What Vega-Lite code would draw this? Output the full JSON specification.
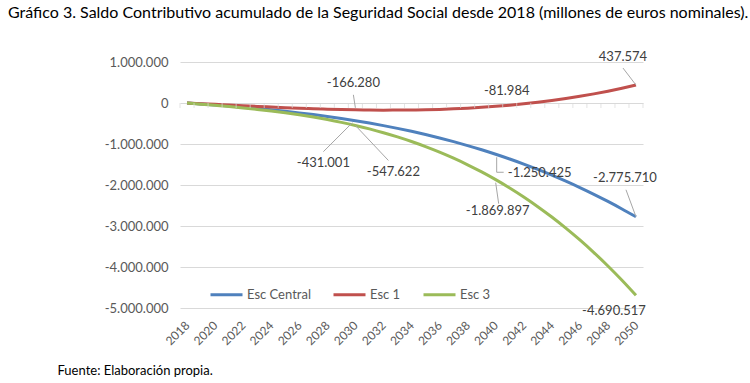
{
  "$schema": "https://vega.github.io/schema/vega-lite/v6.json",
  "autosize": "none",
  "width": 463,
  "height": 246,
  "padding": {"left": 180, "top": 62, "right": 107, "bottom": 75},
  "background": "white",
  "title": {"text": "Gráfico 3. Saldo Contributivo acumulado de la Seguridad Social desde 2018 (millones de euros nominales).", "anchor": "start", "frame": "group", "dx": -172, "offset": 30, "fontSize": 16, "font": "Lato", "fontWeight": "normal", "color": "#000000", "limit": 0},
  "config": {
    "locale": {"number": {"decimal": ",", "thousands": ".", "grouping": [3], "currency": ["", " €"], "minus": "-"}},
    "view": {"stroke": null},
    "font": "Lato",
    "axisX": {"labelOverlap": false, "labelAngle": -45, "labelAlign": "right", "labelBaseline": "middle", "labelFontSize": 12, "labelColor": "#595959", "labelPadding": 15, "domain": false, "ticks": false, "grid": false},
    "legend": {"orient": "none", "legendX": 29, "legendY": 215, "direction": "horizontal", "symbolType": "stroke", "symbolSize": 1024, "symbolStrokeWidth": 3, "labelFontSize": 13, "labelColor": "#595959", "labelFont": "Lato", "columnPadding": 16, "labelOffset": 3}
  },
  "data": {"values": [
    {"year": 2018, "Esc Central": 0, "Esc 1": 0, "Esc 3": 0},
    {"year": 2019, "Esc Central": -23400, "Esc 1": -16600, "Esc 3": -28000},
    {"year": 2020, "Esc Central": -48100, "Esc 1": -33400, "Esc 3": -57000},
    {"year": 2021, "Esc Central": -74500, "Esc 1": -50300, "Esc 3": -87600},
    {"year": 2022, "Esc Central": -102800, "Esc 1": -66900, "Esc 3": -120600},
    {"year": 2023, "Esc Central": -133300, "Esc 1": -83100, "Esc 3": -156500},
    {"year": 2024, "Esc Central": -166300, "Esc 1": -98700, "Esc 3": -196100},
    {"year": 2025, "Esc Central": -202000, "Esc 1": -113400, "Esc 3": -240000},
    {"year": 2026, "Esc Central": -240700, "Esc 1": -127000, "Esc 3": -288900},
    {"year": 2027, "Esc Central": -282700, "Esc 1": -139300, "Esc 3": -343400},
    {"year": 2028, "Esc Central": -328200, "Esc 1": -150100, "Esc 3": -404300},
    {"year": 2029, "Esc Central": -377600, "Esc 1": -159200, "Esc 3": -472100},
    {"year": 2030, "Esc Central": -431001, "Esc 1": -166280, "Esc 3": -547622},
    {"year": 2031, "Esc Central": -488800, "Esc 1": -171200, "Esc 3": -631400},
    {"year": 2032, "Esc Central": -551300, "Esc 1": -173800, "Esc 3": -724200},
    {"year": 2033, "Esc Central": -618600, "Esc 1": -173700, "Esc 3": -826700},
    {"year": 2034, "Esc Central": -691100, "Esc 1": -170800, "Esc 3": -939400},
    {"year": 2035, "Esc Central": -769100, "Esc 1": -164900, "Esc 3": -1063100},
    {"year": 2036, "Esc Central": -852700, "Esc 1": -155700, "Esc 3": -1198500},
    {"year": 2037, "Esc Central": -942400, "Esc 1": -143100, "Esc 3": -1346200},
    {"year": 2038, "Esc Central": -1038300, "Esc 1": -126700, "Esc 3": -1506900},
    {"year": 2039, "Esc Central": -1140800, "Esc 1": -106400, "Esc 3": -1681300},
    {"year": 2040, "Esc Central": -1250425, "Esc 1": -81984, "Esc 3": -1869897},
    {"year": 2041, "Esc Central": -1366300, "Esc 1": -53300, "Esc 3": -2073500},
    {"year": 2042, "Esc Central": -1490000, "Esc 1": -19900, "Esc 3": -2292900},
    {"year": 2043, "Esc Central": -1621300, "Esc 1": 18200, "Esc 3": -2528500},
    {"year": 2044, "Esc Central": -1760400, "Esc 1": 61400, "Esc 3": -2781000},
    {"year": 2045, "Esc Central": -1907700, "Esc 1": 109700, "Esc 3": -3051200},
    {"year": 2046, "Esc Central": -2063400, "Esc 1": 163600, "Esc 3": -3339800},
    {"year": 2047, "Esc Central": -2227900, "Esc 1": 223000, "Esc 3": -3647400},
    {"year": 2048, "Esc Central": -2401300, "Esc 1": 288300, "Esc 3": -3974600},
    {"year": 2049, "Esc Central": -2584000, "Esc 1": 359800, "Esc 3": -4322100},
    {"year": 2050, "Esc Central": -2775710, "Esc 1": 437574, "Esc 3": -4690517}
  ]},
  "transform": [{"fold": ["Esc Central", "Esc 1", "Esc 3"], "as": ["serie", "value"]}],
  "layer": [
    {
      "mark": {"type": "line", "strokeWidth": 3, "interpolate": "monotone"},
      "encoding": {
        "x": {"field": "year", "type": "quantitative", "scale": {"domain": [2017.5, 2050.5], "nice": false, "zero": false},
          "axis": {"values": [2018,2020,2022,2024,2026,2028,2030,2032,2034,2036,2038,2040,2042,2044,2046,2048,2050], "tickCount": 40, "format": "d", "labelOverlap": false,
            "title": "Fuente: Elaboración propia.", "titleX": -123, "titleY": 62, "titleAlign": "left", "titleAnchor": "start", "titleBaseline": "middle", "titleFontWeight": "normal", "titleFontSize": 13, "titleColor": "#000000", "titleFont": "Lato"}},
        "y": {"field": "value", "type": "quantitative", "scale": {"domain": [-5000000, 1000000], "nice": false, "zero": false},
          "axis": {"values": [-5000000,-4000000,-3000000,-2000000,-1000000,0,1000000], "format": ",d", "grid": true, "gridColor": "#d9d9d9", "domain": false, "ticks": false, "labelPadding": 12, "labelFontSize": 13, "labelColor": "#595959", "title": null}},
        "color": {"field": "serie", "type": "nominal", "scale": {"domain": ["Esc Central", "Esc 1", "Esc 3"], "range": ["#4F81BD", "#C0504D", "#9BBB59"]}, "sort": ["Esc Central", "Esc 1", "Esc 3"], "legend": {"title": null}}
      }
    },
    {
      "transform": [{"filter": "datum.serie == 'Esc 1'"}],
      "mark": {"type": "tick", "orient": "vertical", "size": 5, "thickness": 1, "color": "#d9d9d9", "xOffset": -7, "yOffset": 2.5},
      "encoding": {"x": {"field": "year", "type": "quantitative"}, "y": {"datum": 0, "type": "quantitative"}}
    },
    {
      "transform": [{"filter": "datum.serie == 'Esc 1' && datum.year == 2050"}],
      "mark": {"type": "tick", "orient": "vertical", "size": 5, "thickness": 1, "color": "#d9d9d9", "xOffset": 7, "yOffset": 2.5},
      "encoding": {"x": {"field": "year", "type": "quantitative"}, "y": {"datum": 0, "type": "quantitative"}}
    },
    {
      "transform": [{"filter": "datum.serie == 'Esc 1' && datum.year == 2030"}],
      "mark": {"type": "rule", "color": "#a6a6a6", "strokeWidth": 1, "yOffset": -2, "x2Offset": -2, "y2Offset": -15},
      "encoding": {"x": {"field": "year", "type": "quantitative"}, "y": {"field": "value", "type": "quantitative"}, "x2": {"field": "year"}, "y2": {"field": "value"}}
    },
    {
      "transform": [{"filter": "datum.serie == 'Esc 1' && datum.year == 2050"}],
      "mark": {"type": "rule", "color": "#a6a6a6", "strokeWidth": 1, "x2Offset": -13, "y2Offset": -17},
      "encoding": {"x": {"field": "year", "type": "quantitative"}, "y": {"field": "value", "type": "quantitative"}, "x2": {"field": "year"}, "y2": {"field": "value"}}
    },
    {
      "transform": [{"filter": "datum.serie == 'Esc Central' && datum.year == 2030"}],
      "mark": {"type": "rule", "color": "#a6a6a6", "strokeWidth": 1, "xOffset": -3, "yOffset": 2, "x2Offset": -32, "y2Offset": 31},
      "encoding": {"x": {"field": "year", "type": "quantitative"}, "y": {"field": "value", "type": "quantitative"}, "x2": {"field": "year"}, "y2": {"field": "value"}}
    },
    {
      "transform": [{"filter": "datum.serie == 'Esc 3' && datum.year == 2030"}],
      "mark": {"type": "rule", "color": "#a6a6a6", "strokeWidth": 1, "x2Offset": 33, "y2Offset": 35},
      "encoding": {"x": {"field": "year", "type": "quantitative"}, "y": {"field": "value", "type": "quantitative"}, "x2": {"field": "year"}, "y2": {"field": "value"}}
    },
    {
      "transform": [{"filter": "datum.serie == 'Esc Central' && datum.year == 2040"}],
      "mark": {"type": "rule", "color": "#a6a6a6", "strokeWidth": 1, "xOffset": 1, "yOffset": 3, "x2Offset": 1, "y2Offset": 18},
      "encoding": {"x": {"field": "year", "type": "quantitative"}, "y": {"field": "value", "type": "quantitative"}, "x2": {"field": "year"}, "y2": {"field": "value"}}
    },
    {
      "transform": [{"filter": "datum.serie == 'Esc Central' && datum.year == 2040"}],
      "mark": {"type": "rule", "color": "#a6a6a6", "strokeWidth": 1, "xOffset": 1, "yOffset": 18, "x2Offset": 8, "y2Offset": 18},
      "encoding": {"x": {"field": "year", "type": "quantitative"}, "y": {"field": "value", "type": "quantitative"}, "x2": {"field": "year"}, "y2": {"field": "value"}}
    },
    {
      "transform": [{"filter": "datum.serie == 'Esc 3' && datum.year == 2040"}],
      "mark": {"type": "rule", "color": "#a6a6a6", "strokeWidth": 1, "yOffset": 3, "x2Offset": 3, "y2Offset": 24},
      "encoding": {"x": {"field": "year", "type": "quantitative"}, "y": {"field": "value", "type": "quantitative"}, "x2": {"field": "year"}, "y2": {"field": "value"}}
    },
    {
      "transform": [{"filter": "datum.serie == 'Esc Central' && datum.year == 2050"}],
      "mark": {"type": "rule", "color": "#a6a6a6", "strokeWidth": 1, "x2Offset": -10, "y2Offset": -27},
      "encoding": {"x": {"field": "year", "type": "quantitative"}, "y": {"field": "value", "type": "quantitative"}, "x2": {"field": "year"}, "y2": {"field": "value"}}
    },
    {
      "transform": [{"filter": "datum.serie == 'Esc 1' && datum.year == 2030"}],
      "mark": {"type": "text", "dx": -2, "dy": -27, "fontSize": 13, "color": "#404040"},
      "encoding": {"x": {"field": "year", "type": "quantitative"}, "y": {"field": "value", "type": "quantitative"}, "text": {"field": "value", "format": ",d"}}
    },
    {
      "transform": [{"filter": "datum.serie == 'Esc 1' && datum.year == 2040"}],
      "mark": {"type": "text", "dx": 11, "dy": -15, "fontSize": 13, "color": "#404040"},
      "encoding": {"x": {"field": "year", "type": "quantitative"}, "y": {"field": "value", "type": "quantitative"}, "text": {"field": "value", "format": ",d"}}
    },
    {
      "transform": [{"filter": "datum.serie == 'Esc 1' && datum.year == 2050"}],
      "mark": {"type": "text", "dx": -13, "dy": -28, "fontSize": 13, "color": "#404040"},
      "encoding": {"x": {"field": "year", "type": "quantitative"}, "y": {"field": "value", "type": "quantitative"}, "text": {"field": "value", "format": ",d"}}
    },
    {
      "transform": [{"filter": "datum.serie == 'Esc Central' && datum.year == 2030"}],
      "mark": {"type": "text", "dx": -32, "dy": 42, "fontSize": 13, "color": "#404040"},
      "encoding": {"x": {"field": "year", "type": "quantitative"}, "y": {"field": "value", "type": "quantitative"}, "text": {"field": "value", "format": ",d"}}
    },
    {
      "transform": [{"filter": "datum.serie == 'Esc 3' && datum.year == 2030"}],
      "mark": {"type": "text", "dx": 38, "dy": 47, "fontSize": 13, "color": "#404040"},
      "encoding": {"x": {"field": "year", "type": "quantitative"}, "y": {"field": "value", "type": "quantitative"}, "text": {"field": "value", "format": ",d"}}
    },
    {
      "transform": [{"filter": "datum.serie == 'Esc Central' && datum.year == 2040"}],
      "mark": {"type": "text", "dx": 44, "dy": 19, "fontSize": 13, "color": "#404040"},
      "encoding": {"x": {"field": "year", "type": "quantitative"}, "y": {"field": "value", "type": "quantitative"}, "text": {"field": "value", "format": ",d"}}
    },
    {
      "transform": [{"filter": "datum.serie == 'Esc 3' && datum.year == 2040"}],
      "mark": {"type": "text", "dx": 2, "dy": 31, "fontSize": 13, "color": "#404040"},
      "encoding": {"x": {"field": "year", "type": "quantitative"}, "y": {"field": "value", "type": "quantitative"}, "text": {"field": "value", "format": ",d"}}
    },
    {
      "transform": [{"filter": "datum.serie == 'Esc Central' && datum.year == 2050"}],
      "mark": {"type": "text", "dx": -11, "dy": -39, "fontSize": 13, "color": "#404040"},
      "encoding": {"x": {"field": "year", "type": "quantitative"}, "y": {"field": "value", "type": "quantitative"}, "text": {"field": "value", "format": ",d"}}
    },
    {
      "transform": [{"filter": "datum.serie == 'Esc 3' && datum.year == 2050"}],
      "mark": {"type": "text", "dx": -22, "dy": 16, "fontSize": 13, "color": "#404040"},
      "encoding": {"x": {"field": "year", "type": "quantitative"}, "y": {"field": "value", "type": "quantitative"}, "text": {"field": "value", "format": ",d"}}
    }
  ]
}
